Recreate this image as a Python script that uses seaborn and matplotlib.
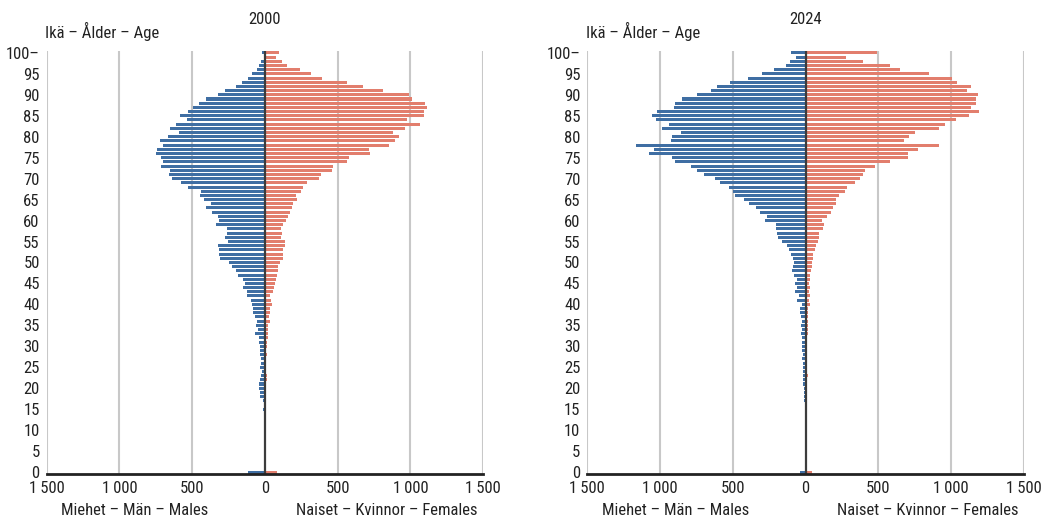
import numpy as np
import seaborn as sns
import matplotlib.pyplot as plt
import pandas as pd

# ika 0..100 (100 = 100 ja yli)
ages = list(range(0, 101))

# 2000 miehet, ika 0 -> 100
m2000 = [117, 0, 0, 0, 0, 0, 0, 0, 0, 0, 0, 0, 0, 0, 0, 14, 9, 11, 34, 34,
         39, 39, 34, 30, 21, 32, 27, 27, 32, 34, 31, 40, 41, 66, 50, 62, 57, 66, 85, 82,
         87, 96, 126, 124, 151, 135, 151, 183, 199, 229, 247, 309, 316, 318, 321, 254, 277, 261, 259, 337,
         318, 325, 364, 408, 373, 419, 447, 442, 527, 577, 641, 657, 655, 714, 701, 712, 747, 740, 703, 721,
         666, 591, 653, 611, 534, 584, 529, 492, 453, 405, 325, 275, 197, 156, 117, 87, 53, 44, 25, 7,
         23]
# 2000 naiset
f2000 = [85, 0, 0, 0, 0, 0, 0, 0, 0, 0, 0, 0, 0, 0, 0, 0, 0, 0, 5, 9,
         7, 5, 11, 11, 7, 9, 5, 9, 11, 9, 11, 14, 23, 18, 18, 21, 32, 27, 32, 32,
         48, 41, 34, 53, 64, 71, 73, 80, 89, 92, 105, 124, 126, 121, 137, 140, 110, 115, 110, 126,
         147, 158, 174, 185, 192, 222, 211, 247, 259, 286, 371, 385, 460, 467, 561, 575, 719, 712, 853, 897,
         921, 882, 962, 1065, 973, 1095, 1092, 1113, 1099, 1008, 992, 813, 676, 563, 392, 316, 240, 151, 115, 76,
         96]
# 2024 miehet
m2024 = [38, 0, 0, 0, 0, 0, 0, 0, 0, 0, 0, 0, 0, 0, 0, 0, 0, 10, 12, 12,
         10, 17, 15, 17, 15, 17, 17, 28, 19, 28, 26, 26, 24, 31, 28, 33, 24, 33, 38, 38,
         24, 58, 45, 72, 60, 70, 56, 79, 93, 90, 79, 88, 102, 113, 125, 159, 191, 196, 201, 203,
         279, 265, 315, 338, 388, 425, 484, 500, 528, 590, 626, 700, 748, 789, 901, 919, 1075, 1043, 1169, 922,
         917, 853, 988, 938, 1027, 1057, 1022, 906, 897, 848, 743, 647, 608, 519, 395, 303, 219, 134, 106, 68,
         100]
# 2024 naiset
f2024 = [43, 0, 0, 0, 0, 0, 0, 0, 0, 0, 0, 0, 0, 0, 0, 0, 0, 0, 0, 0,
         0, 2, 2, 13, 0, 2, 2, 2, 11, 3, 10, 12, 11, 13, 13, 13, 13, 13, 15, 13,
         27, 22, 27, 24, 31, 22, 33, 29, 36, 43, 43, 51, 50, 63, 72, 84, 90, 95, 118, 127,
         111, 145, 173, 191, 207, 207, 228, 269, 283, 338, 373, 393, 407, 475, 578, 702, 702, 773, 915, 674,
         709, 752, 913, 956, 1036, 1126, 1190, 1135, 1174, 1171, 1183, 1112, 1135, 1039, 1009, 848, 651, 578, 395, 276,
         493]

years = ['2000', '2024']
xticks = [-1500, -1000, -500, 0, 500, 1000, 1500]
xticklabels = ['1\u2009500', '1\u2009000', '500', '0', '500', '1\u2009000', '1\u2009500']
yticks = list(range(0, 101, 5))
yticklabels = [str(a) for a in yticks[:-1]] + ['100\u2013']

sns.set_style('white')
plt.rcParams['font.family'] = ['Roboto Condensed', 'Liberation Sans Narrow', 'Roboto', 'DejaVu Sans']
plt.rcParams['font.stretch'] = 'condensed'

sininen = '#2e6db4'
punainen = '#f5705a'
teksti = '#222222'
fs = 12

fig = plt.figure(figsize=(10.46, 5.19), dpi=100)
ax1 = fig.add_axes([0.0446, 0.0861, 0.4174, 0.816])
ax2 = fig.add_axes([0.5615, 0.0861, 0.4174, 0.816])

for ax, vuosi, m, f in [(ax1, years[0], m2000, f2000), (ax2, years[1], m2024, f2024)]:
    df = pd.DataFrame({
        'ika': ages * 2,
        'arvo': [-v for v in m] + list(f),
        'sukupuoli': ['Miehet'] * len(ages) + ['Naiset'] * len(ages),
    })
    df = df[df['arvo'] != 0]
    for g in [-1500, -1000, -500, 500, 1000, 1500]:
        ax.axvline(g, color='#c8c8c8', lw=1.5, zorder=0)
    sns.barplot(data=df, x='arvo', y='ika', hue='sukupuoli', orient='h', native_scale=True,
                dodge=False, errorbar=None, width=0.72, linewidth=0,
                palette={'Miehet': sininen, 'Naiset': punainen}, legend=False, ax=ax, zorder=2)
    ax.axvline(0, color='#3c3c3c', lw=1.6, zorder=3)
    ax.set_xlim(-1500, 1500)
    ax.set_ylim(-0.55, 100.5)
    ax.set_xticks(xticks)
    ax.set_xticklabels(xticklabels, fontsize=fs, color=teksti)
    ax.set_yticks(yticks)
    ax.set_yticklabels(yticklabels, fontsize=fs, color=teksti)
    ax.tick_params(axis='both', length=0)
    ax.tick_params(axis='x', pad=5)
    ax.tick_params(axis='y', pad=5)
    ax.set_xlabel('')
    ax.set_ylabel('')
    for s in ['top', 'right', 'left']:
        ax.spines[s].set_visible(False)
    ax.spines['bottom'].set_color(teksti)
    ax.spines['bottom'].set_linewidth(2)
    ax.spines['bottom'].set_zorder(4)
    ax.grid(False)
    ax.text(0.5, 1.073, vuosi, transform=ax.transAxes, ha='center', va='center',
            fontsize=fs, color=teksti)
    ax.text(-0.004, 1.045, 'Ikä \u2013 Ålder \u2013 Age', transform=ax.transAxes, ha='left',
            va='center', fontsize=fs, color=teksti)
    ax.text(-893, -0.085, 'Miehet \u2013 Män \u2013 Males', transform=ax.get_xaxis_transform(),
            ha='center', va='center', fontsize=fs, color=teksti)
    ax.text(838, -0.085, 'Naiset \u2013 Kvinnor \u2013 Females', transform=ax.get_xaxis_transform(),
            ha='center', va='center', fontsize=fs, color=teksti)

fig.savefig('out.png', dpi=100)
